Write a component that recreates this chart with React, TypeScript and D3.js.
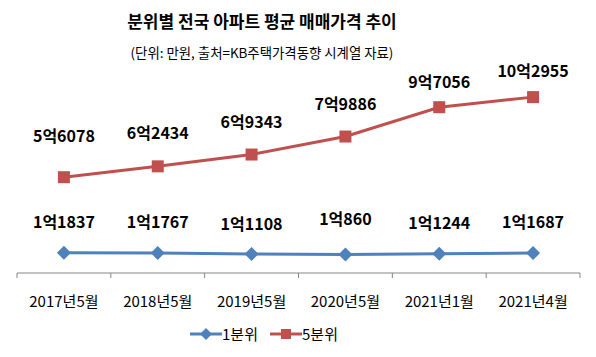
import React from "react";
import * as d3 from "d3";

const categories = ["2017년5월", "2018년5월", "2019년5월", "2020년5월", "2021년1월", "2021년4월"];
const q1Values = [11837, 11767, 11108, 10860, 11244, 11687];
const q5Values = [56078, 62434, 69343, 79886, 97056, 102955];
const seriesNames = ["1분위", "5분위"];
const title = "분위별 전국 아파트 평균 매매가격 추이";
const subtitle = "(단위: 만원, 출처=KB주택가격동향 시계열 자료)";

// label vertical offsets (layout only)
const q5LabelDy = [-41, -33, -33, -33, -25, -26];
const q1LabelDy = [-31, -31, -30, -35, -31, -31];

const W = 596;
const H = 357;
const BLUE = "#4F81BD";
const RED = "#C0504D";
const FONT = "'Noto Sans CJK KR', 'Noto Sans', sans-serif";

function fmt(v: number) {
  const eok = Math.floor(v / 10000);
  const rest = v % 10000;
  return `${eok}억${rest}`;
}

export default function App() {
  const x = d3.scaleBand().domain(categories).range([17, 580]).padding(0);
  const y = d3.scaleLinear().domain([0, 120000]).range([273, 68]);
  const cx = (c: string) => (x(c) as number) + x.bandwidth() / 2;

  const line = d3
    .line<number>()
    .x((_, i) => cx(categories[i]))
    .y((d) => y(d));

  const ticks = d3.range(categories.length + 1).map((i) => 17 + i * x.bandwidth());

  const diamond = (px: number, py: number, r: number) =>
    `M${px},${py - r}L${px + r},${py}L${px},${py + r}L${px - r},${py}Z`;

  return (
    <svg width={W} height={H} style={{ position: "absolute", left: 0, top: 0, background: "#fff" }}>
      <text x={262} y={28} textAnchor="middle" fontFamily={FONT} fontWeight={700} fontSize={17} fill="#000">
        {title}
      </text>
      <text x={262} y={58} textAnchor="middle" fontFamily={FONT} fontSize={13.4} fill="#000">
        {subtitle}
      </text>

      {/* axis */}
      <line x1={17} x2={580} y1={273} y2={273} stroke="#868686" strokeWidth={1} />
      {ticks.map((t, i) => (
        <line key={i} x1={t} x2={t} y1={273} y2={278} stroke="#868686" strokeWidth={1} />
      ))}
      {categories.map((c) => (
        <text key={c} x={cx(c)} y={307} textAnchor="middle" fontFamily={FONT} fontSize={15} fill="#000">
          {c}
        </text>
      ))}

      {/* series */}
      <path d={line(q5Values) || ""} fill="none" stroke={RED} strokeWidth={3} />
      {q5Values.map((v, i) => (
        <rect key={i} x={cx(categories[i]) - 6} y={y(v) - 6} width={12} height={12} fill={RED} />
      ))}
      <path d={line(q1Values) || ""} fill="none" stroke={BLUE} strokeWidth={3} />
      {q1Values.map((v, i) => (
        <path key={i} d={diamond(cx(categories[i]), y(v), 7)} fill={BLUE} />
      ))}

      {/* labels */}
      {q5Values.map((v, i) => (
        <text key={i} x={cx(categories[i])} y={y(v) + q5LabelDy[i] + 6} textAnchor="middle" fontFamily={FONT} fontWeight={700} fontSize={16} fill="#000">
          {fmt(v)}
        </text>
      ))}
      {q1Values.map((v, i) => (
        <text key={i} x={cx(categories[i])} y={y(v) + q1LabelDy[i] + 6} textAnchor="middle" fontFamily={FONT} fontWeight={700} fontSize={16} fill="#000">
          {fmt(v)}
        </text>
      ))}

      {/* legend */}
      <g>
        <line x1={190} x2={222} y1={334} y2={334} stroke={BLUE} strokeWidth={3} />
        <path d={diamond(206, 334, 6)} fill={BLUE} />
        <text x={222} y={340} fontFamily={FONT} fontSize={15} fill="#000">{seriesNames[0]}</text>
        <line x1={270} x2={302} y1={334} y2={334} stroke={RED} strokeWidth={3} />
        <rect x={281} y={329} width={10} height={10} fill={RED} />
        <text x={302} y={340} fontFamily={FONT} fontSize={15} fill="#000">{seriesNames[1]}</text>
      </g>
    </svg>
  );
}
